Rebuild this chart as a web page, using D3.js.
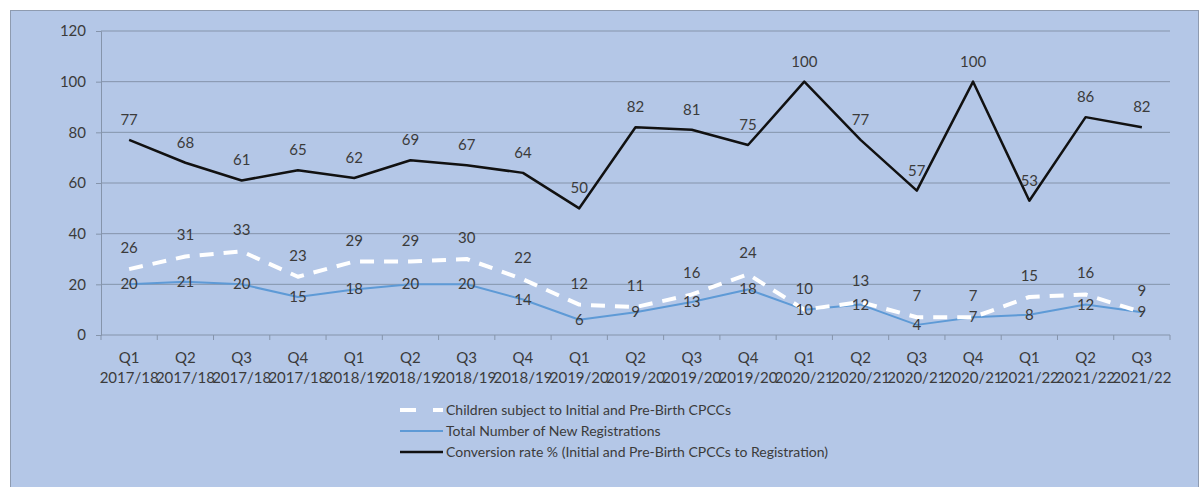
<!DOCTYPE html>
<html>
<head>
<meta charset="utf-8">
<script src="https://cdn.jsdelivr.net/npm/d3@7"></script>
<style>
  body { margin: 0; background: #fff; }
  text { font-family: Lato, "Open Sans", sans-serif; fill: #3b3b3b; }
</style>
</head>
<body>
<div id="chart"></div>
<script>
// data
var quarters = ["Q1","Q2","Q3","Q4","Q1","Q2","Q3","Q4","Q1","Q2","Q3","Q4","Q1","Q2","Q3","Q4","Q1","Q2","Q3"];
var years = ["2017/18","2017/18","2017/18","2017/18","2018/19","2018/19","2018/19","2018/19",
             "2019/20","2019/20","2019/20","2019/20","2020/21","2020/21","2020/21","2020/21",
             "2021/22","2021/22","2021/22"];
var children = [26,31,33,23,29,29,30,22,12,11,16,24,10,13,7,7,15,16,9];
var registrations = [20,21,20,15,18,20,20,14,6,9,13,18,10,12,4,7,8,12,9];
var conversion = [77,68,61,65,62,69,67,64,50,82,81,75,100,77,57,100,53,86,82];
var yTicks = [0,20,40,60,80,100,120];
var legendNames = ["Children subject to Initial and Pre-Birth CPCCs",
                   "Total Number of New Registrations",
                   "Conversion rate % (Initial and Pre-Birth CPCCs to Registration)"];

(function() {
var W = 1200, H = 487;
var pLeft = 101, pRight = 1170, pTop = 31, pBottom = 335;

var svg = d3.select("#chart").append("svg")
    .attr("width", W).attr("height", H);

// chart background
svg.append("rect")
    .attr("x", 10.5).attr("y", 10.5)
    .attr("width", 1188).attr("height", 480)
    .attr("fill", "#b4c7e7")
    .attr("stroke", "#8e9bb0").attr("stroke-width", 1);

var idx = d3.range(quarters.length);
var x = d3.scaleBand().domain(idx).range([pLeft, pRight]).padding(0);
var y = d3.scaleLinear().domain([0, 120]).range([pBottom, pTop]);
var cx = function(i) { return x(i) + x.bandwidth() / 2; };

// gridlines
svg.append("g").selectAll("line").data(yTicks.filter(function(d){ return d > 0; }))
    .enter().append("line")
    .attr("x1", pLeft).attr("x2", pRight)
    .attr("y1", function(d){ return y(d); }).attr("y2", function(d){ return y(d); })
    .attr("stroke", "#8594ab").attr("stroke-width", 1);

// y axis
var yAxis = svg.append("g").attr("transform", "translate(" + pLeft + ",0)")
    .call(d3.axisLeft(y).tickValues(yTicks).tickSize(5).tickPadding(10));
yAxis.select(".domain").attr("stroke", "#8594ab");
yAxis.selectAll(".tick line").attr("stroke", "#8594ab");
yAxis.selectAll("text").attr("font-size", 15).attr("fill", "#3b3b3b")
    .style("font-family", "Lato, sans-serif");

// x axis
var xAxis = svg.append("g").attr("transform", "translate(0," + pBottom + ")");
xAxis.append("line").attr("x1", pLeft).attr("x2", pRight)
    .attr("stroke", "#8594ab");
xAxis.selectAll("line.tk").data(d3.range(quarters.length + 1)).enter().append("line")
    .attr("class", "tk")
    .attr("x1", function(i){ return pLeft + i * x.bandwidth(); })
    .attr("x2", function(i){ return pLeft + i * x.bandwidth(); })
    .attr("y1", 0).attr("y2", 5)
    .attr("stroke", "#8594ab");
var xl = xAxis.selectAll("text.xl").data(idx).enter().append("text")
    .attr("class", "xl")
    .attr("text-anchor", "middle")
    .attr("font-size", 15);
xl.append("tspan").attr("x", cx).attr("y", 28).text(function(i){ return quarters[i]; });
xl.append("tspan").attr("x", cx).attr("y", 48).text(function(i){ return years[i]; });

// lines
var series = [
  { data: conversion, color: "#111", width: 2.5, dash: null },
  { data: registrations, color: "#5e9ad6", width: 2, dash: null },
  { data: children, color: "#ffffff", width: 4, dash: "14,10" }
];
var line = d3.line().x(function(d, i){ return cx(i); }).y(function(d){ return y(d); });
series.forEach(function(s) {
  svg.append("path").datum(s.data)
    .attr("d", line)
    .attr("fill", "none")
    .attr("stroke", s.color)
    .attr("stroke-width", s.width)
    .attr("stroke-linejoin", "round")
    .attr("stroke-dasharray", s.dash);
});

// data labels
function labels(data, dy) {
  svg.append("g").selectAll("text").data(data).enter().append("text")
    .attr("x", function(d, i){ return cx(i); })
    .attr("y", function(d){ return y(d) + dy; })
    .attr("text-anchor", "middle")
    .attr("font-size", 15)
    .text(function(d){ return d; });
}
labels(conversion, -15);
labels(children, -16);
labels(registrations, 5);

// legend
var lg = svg.append("g");
var rows = [
  { color: "#ffffff", width: 4, dash: "16,17" },
  { color: "#5e9ad6", width: 2, dash: null },
  { color: "#111", width: 2.5, dash: null }
];
rows.forEach(function(r, k) {
  var ly = 410 + k * 21;
  lg.append("line").attr("x1", 400).attr("x2", 443).attr("y1", ly).attr("y2", ly)
    .attr("stroke", r.color).attr("stroke-width", r.width).attr("stroke-dasharray", r.dash);
  lg.append("text").attr("x", 446).attr("y", ly + 5)
    .attr("font-size", 14).text(legendNames[k]);
});
})();
</script>
</body>
</html>
